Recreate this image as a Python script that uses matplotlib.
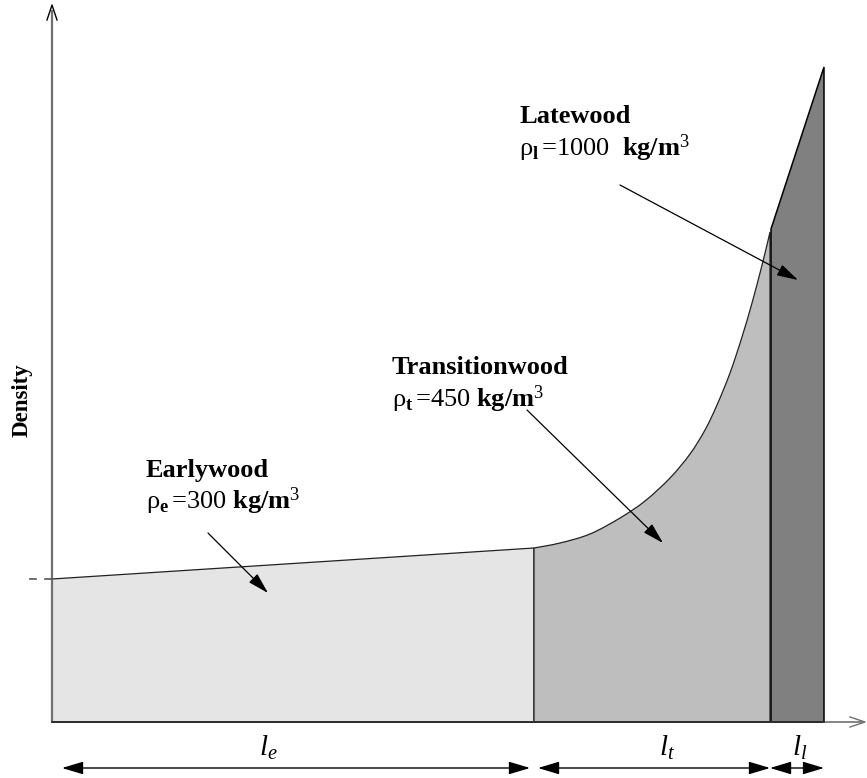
import matplotlib
matplotlib.use("Agg")
import matplotlib.pyplot as plt
from matplotlib.patches import Polygon, FancyArrowPatch, PathPatch
from matplotlib.path import Path

plt.rcParams['mathtext.fontset'] = 'custom'
plt.rcParams['mathtext.rm'] = 'Liberation Serif'
plt.rcParams['mathtext.bf'] = 'Liberation Serif:bold'
plt.rcParams['mathtext.it'] = 'Liberation Serif:italic'

SERIF = ['Liberation Serif', 'DejaVu Serif']

# ---------------- data ----------------
# earlywood: linear density profile
early_x = [0, 482]
early_y = [143, 174]
# transitionwood: exponential-like rise
trans_x = [482, 508, 538, 568, 593, 618, 638, 653, 665, 678, 690, 700, 708, 714, 718]
trans_y = [174, 179, 188, 204, 221, 244, 268, 292, 317, 349, 385, 419, 449, 473, 490]
# latewood: steep linear rise
late_x = [719, 772]
late_y = [493, 655]

zone_names = ["Earlywood", "Transitionwood", "Latewood"]
zone_subs = ["e", "t", "l"]
zone_rho = ["300", "450", "1000"]
zone_colors = ["#e5e5e5", "#bebebe", "#808080"]
density_tick = 143

# ---------------- figure ----------------
fig = plt.figure(figsize=(8.67, 7.78), dpi=100)
ax = fig.add_axes([0, 0, 1, 1])
ax.set_xlim(-52, 815)
ax.set_ylim(-56, 722)
ax.axis('off')

# earlywood
early_poly = [(early_x[0], 0), (early_x[0], early_y[0]), (early_x[1], early_y[1]), (early_x[1], 0)]
ax.add_patch(Polygon(early_poly, closed=True, facecolor=zone_colors[0], edgecolor='#222222', lw=0.9))

# transitionwood: smooth path (Catmull-Rom as cubic Bezier segments through the read points)
pts = list(zip(trans_x, trans_y))
verts = [(trans_x[0], 0), pts[0]]
codes = [Path.MOVETO, Path.LINETO]
n = len(pts)
for i in range(n - 1):
    p0 = pts[i - 1] if i > 0 else pts[i]
    p1 = pts[i]
    p2 = pts[i + 1]
    p3 = pts[i + 2] if i + 2 < n else pts[i + 1]
    c1 = (p1[0] + (p2[0] - p0[0]) / 6, p1[1] + (p2[1] - p0[1]) / 6)
    c2 = (p2[0] - (p3[0] - p1[0]) / 6, p2[1] - (p3[1] - p1[1]) / 6)
    verts += [c1, c2, p2]
    codes += [Path.CURVE4] * 3
verts += [(trans_x[-1], 0), (trans_x[0], 0)]
codes += [Path.LINETO, Path.CLOSEPOLY]
ax.add_patch(PathPatch(Path(verts, codes), facecolor=zone_colors[1], edgecolor='#222222', lw=0.9))

# latewood
late_poly = [(late_x[0], 0), (late_x[0], late_y[0]), (late_x[1], late_y[1]), (late_x[1], 0)]
ax.add_patch(Polygon(late_poly, closed=True, facecolor=zone_colors[2], edgecolor='black', lw=1.1))

# axes lines with open arrowheads
ax.plot([0, 0], [0, 712], color='#707070', lw=1.6, solid_capstyle='butt')
ax.plot([-5, 0, 5], [702, 717, 702], color='black', lw=1.0)
ax.plot([0, 810], [0, 0], color='#707070', lw=1.2)
ax.plot([798, 813, 798], [5, 0, -5], color='#707070', lw=1.0)
ax.plot([early_x[0], late_x[1]], [0, 0], color='#222222', lw=1.2)

# density tick
ax.plot([-22, -16], [density_tick, density_tick], color='#555555', lw=1.2)
ax.plot([-7, 0], [density_tick, density_tick], color='#555555', lw=1.2)

# y label
ax.text(-30, 322, "Density", rotation=90, ha='center', va='center',
        fontsize=16.5, fontweight='bold', family=SERIF)

# zone labels
label_pos = [(94, 245), (340, 348), (467, 599)]
rho_pos = [(94, 213), (340, 315), (467, 566)]
gaps = ["", "", " "]
for name, sub, rho, (lx, ly), (rx, ry), g in zip(zone_names, zone_subs, zone_rho, label_pos, rho_pos, gaps):
    ax.text(lx, ly, name, fontsize=19, fontweight='bold', family=SERIF, va='baseline')
    ax.text(rx, ry, "ρ" + r"$_{\mathbf{" + sub + r"}}\,$" + "=" + rho + g + r" $\mathbf{kg/m}^{\mathrm{3}}$",
            fontsize=19, family=SERIF, va='baseline')

# annotation arrows (start -> tip)
arrows = [((156, 189), (216, 129)),
          ((475, 312), (611, 179)),
          ((568, 537), (746, 442))]
for s, e in arrows:
    ax.add_patch(FancyArrowPatch(s, e, arrowstyle='-|>,head_length=1.0,head_width=0.28',
                                 mutation_scale=13, color='black', lw=0.9,
                                 shrinkA=0, shrinkB=0))

# dimension arrows below axis
dim_y = -46
spans = [(10, 478), (486, 718), (718, 772)]
dim_labels = [r"$\mathit{l}_{\mathit{e}}$", r"$\mathit{l}_{\mathit{t}}$", r"$\mathit{l}_{\mathit{l}}$"]
dim_label_x = [216, 615, 748]
for (a, b), lab, lx in zip(spans, dim_labels, dim_label_x):
    ax.add_patch(FancyArrowPatch((a, dim_y), (b, dim_y),
                                 arrowstyle='<|-|>,head_length=1.0,head_width=0.3',
                                 mutation_scale=13, color='black', lw=1.0,
                                 shrinkA=0, shrinkB=0, clip_on=False))
    ax.text(lx, -26, lab, fontsize=21, ha='center', va='center', family=SERIF)

fig.savefig("out.png", dpi=100)
